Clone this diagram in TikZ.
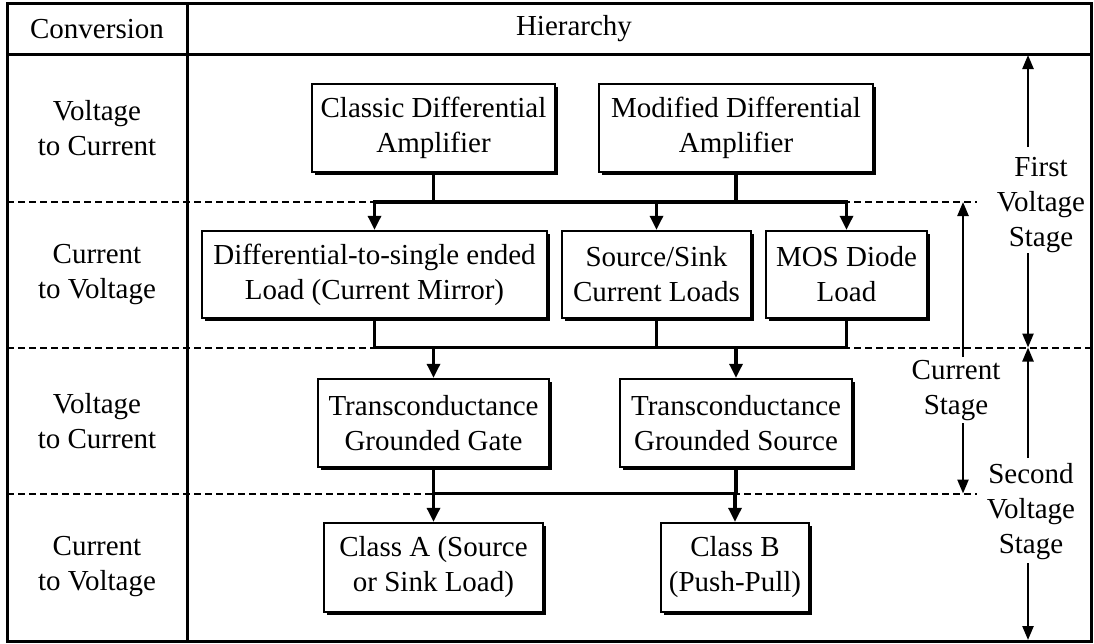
\documentclass[tikz,border=0pt]{standalone}
\usepackage{fontspec}
\setmainfont{Liberation Serif}
\usetikzlibrary{arrows.meta,shadows}
\begin{document}
\begin{tikzpicture}[x=1pt,y=-1pt,
  every node/.style={font=\fontsize{29}{35}\selectfont, align=center, inner sep=0pt},
  box/.style={draw, line width=2.4pt, fill=white, minimum height=88pt,
    drop shadow={shadow xshift=2.8pt, shadow yshift=-2.8pt, fill=black, opacity=1}},
  frameline/.style={line width=3pt},
  sep/.style={line width=2pt, dash pattern=on 7pt off 4pt},
  conn/.style={line width=3.2pt, line cap=rect},
  connarr/.style={line width=3.2pt, -{Triangle[length=14pt,width=13pt]}},
  annarr/.style={line width=2.4pt, -{Triangle[length=14pt,width=11pt]}}
]
\useasboundingbox (0,0) rectangle (1094,643);
% frame and table
\draw[frameline] (7,3) rectangle (1091,641);
\draw[frameline] (187,3) -- (187,641);
\draw[frameline] (7,54) -- (1091,54);
% dashed row separators
\draw[sep] (7,202) -- (977,202);
\draw[sep] (7,347.5) -- (1091,347.5);
\draw[sep] (7,493.5) -- (977,493.5);
% header
\node (hconv) at (97,29) {Conversion};
\node (hhier) at (574,29) {Hierarchy};
% left column
\node (c1) at (97,128) {Voltage\\to Current};
\node (c2) at (97,275) {Current\\to Voltage};
\node (c3) at (97,421) {Voltage\\to Current};
\node (c4) at (97,567) {Current\\to Voltage};
% boxes
\node[box, minimum width=243pt] (classic) at (433.5,128) {Classic Differential\\Amplifier};
\node[box, minimum width=274pt] (modified) at (736,128) {Modified Differential\\Amplifier};
\node[box, minimum width=345pt, minimum height=87pt] (diff) at (374.5,274.5) {Differential-to-single ended\\Load (Current Mirror)};
\node[box, minimum width=189pt, minimum height=87pt] (ss) at (656.5,274.5) {Source/Sink\\Current Loads};
\node[box, minimum width=161pt, minimum height=87pt] (mos) at (846.5,274.5) {MOS Diode\\Load};
\node[box, minimum width=231pt] (tgg) at (433.5,423) {Transconductance\\Grounded Gate};
\node[box, minimum width=232pt] (tgs) at (736,423) {Transconductance\\Grounded Source};
\node[box, minimum width=219pt, minimum height=89pt] (classA) at (433.5,567.5) {Class A (Source\\or Sink Load)};
\node[box, minimum width=148pt, minimum height=89pt] (classB) at (735,567.5) {Class B\\(Push-Pull)};
% bus levels
\coordinate (busA) at (0,202);
\coordinate (busB) at (0,347.5);
\coordinate (busC) at (0,493.5);
% row 1 -> row 2
\draw[conn] (classic.south) -- (classic.south |- busA);
\draw[conn] (modified.south) -- (modified.south |- busA);
\draw[conn] (diff.north |- busA) -- (mos.north |- busA);
\draw[connarr] (diff.north |- busA) -- (diff.north);
\draw[connarr] (ss.north |- busA) -- (ss.north);
\draw[connarr] (mos.north |- busA) -- (mos.north);
% row 2 -> row 3
\draw[conn] (diff.south) -- (diff.south |- busB);
\draw[conn] (ss.south) -- (ss.south |- busB);
\draw[conn] (mos.south) -- (mos.south |- busB);
\draw[conn] (diff.south |- busB) -- (mos.south |- busB);
\draw[connarr] (tgg.north |- busB) -- (tgg.north);
\draw[connarr] (tgs.north |- busB) -- (tgs.north);
% row 3 -> row 4
\draw[conn] (tgg.south) -- (tgg.south |- busC);
\draw[conn] (tgs.south) -- (tgs.south |- busC);
\draw[conn] (tgg.south |- busC) -- (tgs.south |- busC);
\draw[connarr] (classA.north |- busC) -- (classA.north);
\draw[connarr] (classB.north |- busC) -- (classB.north);
% stage annotations
\node (fvs) at (1041,205) {First\\Voltage\\Stage};
\node (cs) at (956,390.5) {Current\\Stage};
\node (svs) at (1031,511.5) {Second\\Voltage\\Stage};
\coordinate (fvsTop) at (1028,55);
\coordinate (fvsT1) at (1028,147);
\coordinate (fvsT2) at (1028,253);
\coordinate (fvsBot) at (1028,347.5);
\coordinate (csTop) at (963,202);
\coordinate (csT1) at (963,357);
\coordinate (csT2) at (963,423);
\coordinate (csBot) at (963,493.5);
\coordinate (svsTop) at (1028,347.5);
\coordinate (svsT1) at (1028,458);
\coordinate (svsT2) at (1028,563);
\coordinate (svsBot) at (1028,640);
\draw[annarr] (fvsT1) -- (fvsTop);
\draw[annarr] (fvsT2) -- (fvsBot);
\draw[annarr] (csT1) -- (csTop);
\draw[annarr] (csT2) -- (csBot);
\draw[annarr] (svsT1) -- (svsTop);
\draw[annarr] (svsT2) -- (svsBot);
\end{tikzpicture}
\end{document}
